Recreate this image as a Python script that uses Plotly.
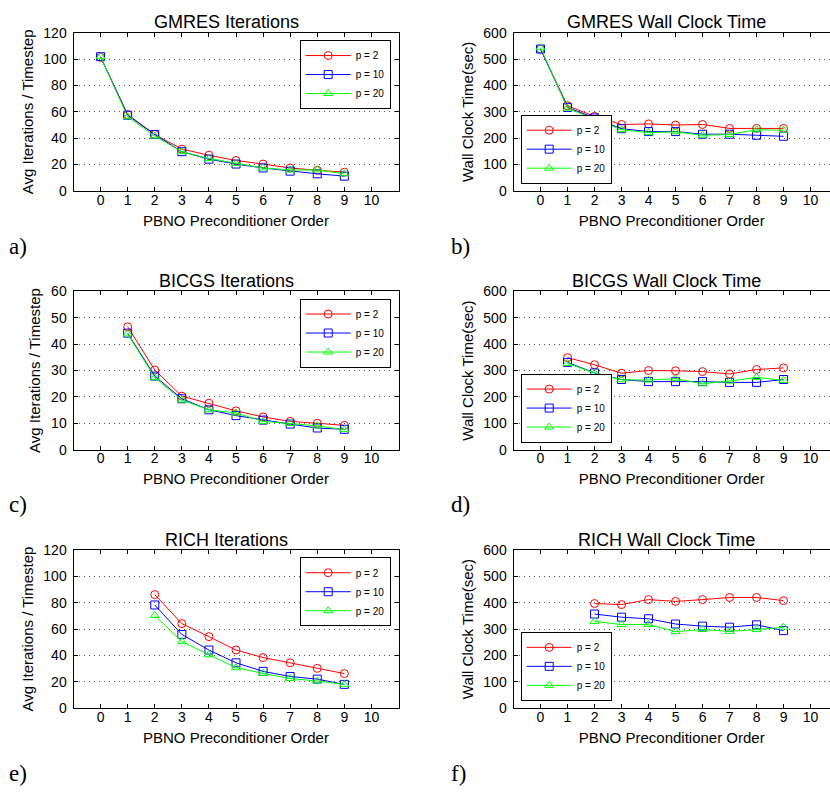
import plotly.graph_objects as go

W, H = 830, 794

# ---------------- data ----------------
x_gmres = [0, 1, 2, 3, 4, 5, 6, 7, 8, 9]
x_bicgs = [1, 2, 3, 4, 5, 6, 7, 8, 9]
x_rich = [2, 3, 4, 5, 6, 7, 8, 9]

gmres_iter_p2 = [101.5, 58, 42.8, 31.7, 27, 23, 20.3, 17.3, 15.6, 14.1]
gmres_iter_p10 = [102, 57.4, 42.8, 29.7, 24, 20.3, 17.3, 14.9, 12.9, 11.1]
gmres_iter_p20 = [102, 56.2, 41.6, 29.7, 24.5, 20.8, 17.3, 15.8, 15.8, 12.9]

gmres_time_p2 = [539, 323, 283, 252, 254, 250, 252, 237, 237, 237]
gmres_time_p10 = [539, 317, 277, 236, 225, 225, 215, 215, 211, 207]
gmres_time_p20 = [544, 314, 271, 232, 221, 224, 211, 214, 232, 230]

bicgs_iter_p2 = [46.6, 30.2, 20.3, 17.6, 14.7, 12.4, 10.7, 10.0, 9.2]
bicgs_iter_p10 = [44.2, 27.9, 19.3, 15.1, 12.9, 11.2, 9.7, 8.2, 7.7]
bicgs_iter_p20 = [43.9, 27.3, 18.8, 15.1, 13.9, 10.7, 9.9, 9.0, 7.6]

bicgs_time_p2 = [349, 322, 290, 300, 299, 296, 287, 304, 310]
bicgs_time_p10 = [331, 291, 266, 258, 258, 258, 255, 255, 266]
bicgs_time_p20 = [327, 291, 265, 264, 269, 250, 260, 274, 263]

rich_iter_p2 = [86.2, 64.1, 54.2, 44, 38.3, 34.3, 30.1, 26.1]
rich_iter_p10 = [78.3, 55.9, 44, 34.3, 27.8, 23.9, 21.9, 17.9]
rich_iter_p20 = [70.3, 50.4, 40.5, 30.6, 26.3, 22.4, 20.4, 17.9]

rich_time_p2 = [397, 393, 412, 405, 412, 420, 420, 408]
rich_time_p10 = [357, 345, 339, 319, 311, 307, 316, 294]
rich_time_p20 = [329, 317, 317, 290, 298, 291, 298, 307]

series_names = ["p = 2", "p = 10", "p = 20"]
series_colors = ["#ff0000", "#0000ff", "#00ff00"]
series_symbols = ["circle-open", "square-open", "triangle-up-open"]

panel_titles = ["GMRES Iterations", "GMRES Wall Clock Time",
                "BICGS Iterations", "BICGS Wall Clock Time",
                "RICH Iterations", "RICH Wall Clock Time"]
panel_letters = ["a)", "b)", "c)", "d)", "e)", "f)"]
x_title = "PBNO Preconditioner Order"
y_titles = ["Avg Iterations / Timestep", "Wall Clock Time(sec)"]
x_ticks = [0, 1, 2, 3, 4, 5, 6, 7, 8, 9, 10]

panels = [
    (x_gmres, [gmres_iter_p2, gmres_iter_p10, gmres_iter_p20], [0, 120], 20),
    (x_gmres, [gmres_time_p2, gmres_time_p10, gmres_time_p20], [0, 600], 100),
    (x_bicgs, [bicgs_iter_p2, bicgs_iter_p10, bicgs_iter_p20], [0, 60], 10),
    (x_bicgs, [bicgs_time_p2, bicgs_time_p10, bicgs_time_p20], [0, 600], 100),
    (x_rich, [rich_iter_p2, rich_iter_p10, rich_iter_p20], [0, 120], 20),
    (x_rich, [rich_time_p2, rich_time_p10, rich_time_p20], [0, 600], 100),
]

# ---------------- layout geometry (pixels) ----------------
col_px = [(73.5, 398.5), (513.5, 830.0)]
row_px = [(25.5, 186.5), (289.3, 450.7), (553.3, 714.3)]
x_ranges = [[-1, 11], [-1, 10.72]]

SANS = "Liberation Sans, Arial, sans-serif"
SERIF = "Liberation Serif, Times New Roman, serif"

fig = go.Figure()
layout = dict(
    width=W, height=H,
    margin=dict(l=0, r=0, t=0, b=0),
    paper_bgcolor="white", plot_bgcolor="white",
    font=dict(family=SANS, color="black"),
    showlegend=True,
)
annotations = []

def px2x(p):
    return p / W

def px2y(p):
    return 1 - p / H

for i, (xs, ys_list, yr, dtick) in enumerate(panels):
    r, c = divmod(i, 2)
    n = i + 1
    xa = "xaxis" if n == 1 else f"xaxis{n}"
    ya = "yaxis" if n == 1 else f"yaxis{n}"
    xref = "x" if n == 1 else f"x{n}"
    yref = "y" if n == 1 else f"y{n}"
    leg = "legend" if n == 1 else f"legend{n}"

    for ys, name, col, sym in zip(ys_list, series_names, series_colors, series_symbols):
        fig.add_trace(go.Scatter(
            x=xs, y=ys, name=name, mode="lines+markers",
            line=dict(color=col, width=1),
            marker=dict(symbol=sym, size=8, color=col, line=dict(width=1, color=col)),
            xaxis=xref, yaxis=yref, legend=leg, showlegend=True,
        ))

    x0, x1 = col_px[c]
    y0, y1 = row_px[r]
    layout[xa] = dict(
        domain=[px2x(x0), px2x(x1)], range=x_ranges[c], anchor=yref,
        tickmode="array", tickvals=x_ticks, ticktext=[str(t) for t in x_ticks],
        ticks="inside", ticklen=4, tickcolor="black", tickwidth=1,
        showline=True, linecolor="black", linewidth=1, mirror="ticks",
        showgrid=False, zeroline=False,
        tickfont=dict(size=14, family=SANS), ticklabelstandoff=-4,
        title=dict(text=x_title, font=dict(size=15, family=SANS), standoff=8),
    )
    layout[ya] = dict(
        domain=[px2y(y1), px2y(y0)], range=yr, anchor=xref, dtick=dtick, tick0=0,
        ticks="inside", ticklen=4, tickcolor="black", tickwidth=1,
        showline=True, linecolor="black", linewidth=1,
        mirror="ticks" if c == 0 else False,
        showgrid=True, gridcolor="#555555", griddash="1px,4px", gridwidth=1,
        zeroline=False,
        tickfont=dict(size=14, family=SANS), ticklabelstandoff=3,
        title=dict(text=y_titles[c], font=dict(size=15, family=SANS), standoff=6),
    )

    # legend placement
    if c == 0:
        legpos = dict(x=px2x(390.7), y=px2y(y0 + 7.2), xanchor="right", yanchor="top")
    else:
        legpos = dict(x=px2x(520.7), y=px2y(y1 - 7.2), xanchor="left", yanchor="bottom")
    layout[leg] = dict(
        **legpos, xref="paper", yref="paper",
        bgcolor="white", bordercolor="black", borderwidth=1,
        font=dict(size=10, family=SANS, color="black"),
        itemwidth=45, tracegroupgap=0,
    )

    # panel title
    tx = 226 if c == 0 else 666
    ty = [14, 279, 542.5][r]
    annotations.append(dict(
        text=panel_titles[i], x=px2x(tx), y=px2y(ty), xref="paper", yref="paper",
        showarrow=False, xanchor="center", yanchor="middle",
        font=dict(size=18, family=SANS, color="black"),
    ))
    # panel letter
    lx = 7 if c == 0 else 449
    ly = [243, 507, 781][r]
    annotations.append(dict(
        text=panel_letters[i], x=px2x(lx), y=px2y(ly), xref="paper", yref="paper",
        showarrow=False, xanchor="left", yanchor="middle",
        font=dict(size=23, family=SERIF, color="black"),
    ))

layout["annotations"] = annotations
fig.update_layout(**layout)
fig.write_html("out.html")
